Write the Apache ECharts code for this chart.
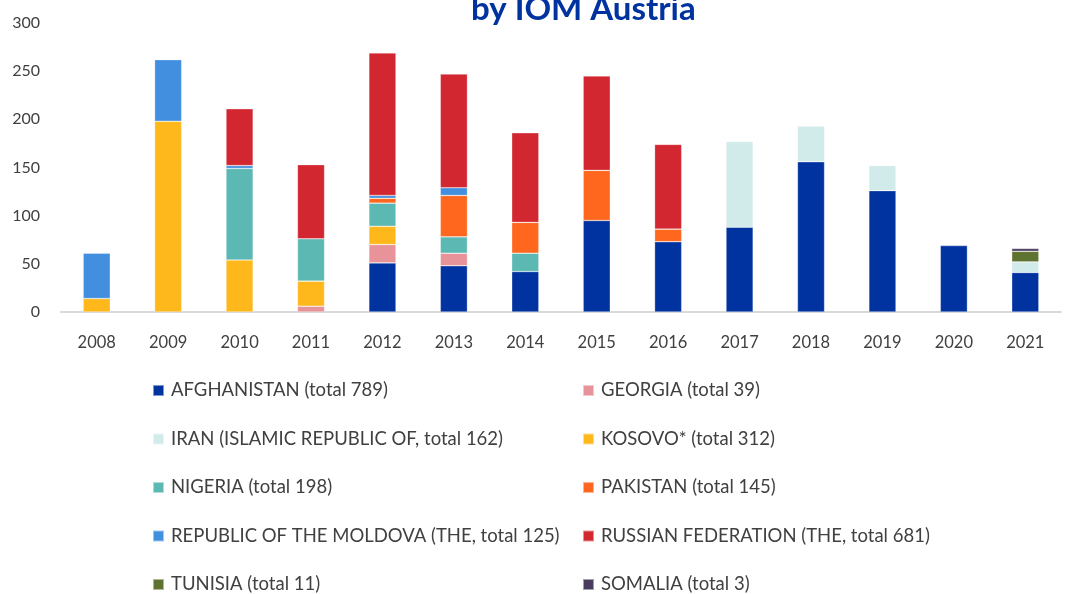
<!DOCTYPE html>
<html>
<head>
<meta charset="utf-8">
<script src="https://cdn.jsdelivr.net/npm/echarts@6/dist/echarts.min.js"></script>
<style>
  html, body { margin: 0; padding: 0; background: #fff; }
  #chart { width: 1068px; height: 594px; }
</style>
</head>
<body>
<div id="chart"></div>
<script>
// years on the x axis
const years = ['2008','2009','2010','2011','2012','2013','2014','2015','2016','2017','2018','2019','2020','2021']

// returns per country and year (null = none)
const afghanistan = [null, null, null, null, 51, 48, 42, 95, 73, 88, 156, 126, 69, 41]
const georgia     = [null, null, null, 6, 19, 13, null, null, null, null, null, null, null, null]
const iran        = [null, null, null, null, null, null, null, null, null, 89, 37, 26, null, 11]
const kosovo      = [14, 198, 54, 26, 19, null, null, null, null, null, null, null, null, null]
const nigeria     = [null, null, 95, 44, 24, 17, 19, null, null, null, null, null, null, null]
const pakistan    = [null, null, null, null, 5, 43, 32, 52, 13, null, null, null, null, null]
const moldova     = [47, 64, 3, null, 3, 8, null, null, null, null, null, null, null, null]
const russia      = [null, null, 59, 77, 148, 118, 93, 98, 88, null, null, null, null, null]
const tunisia     = [null, null, null, null, null, null, null, null, null, null, null, null, null, 11]
const somalia     = [null, null, null, null, null, null, null, null, null, null, null, null, null, 3]

const seriesNames = [
  'AFGHANISTAN (total 789)',
  'GEORGIA (total 39)',
  'IRAN (ISLAMIC REPUBLIC OF, total 162)',
  'KOSOVO* (total 312)',
  'NIGERIA (total 198)',
  'PAKISTAN (total 145)',
  'REPUBLIC OF THE MOLDOVA (THE, total 125)',
  'RUSSIAN FEDERATION (THE, total 681)',
  'TUNISIA (total 11)',
  'SOMALIA (total 3)'
]
const seriesData = [afghanistan, georgia, iran, kosovo, nigeria, pakistan, moldova, russia, tunisia, somalia]
const colors = ['#0033A0','#E8939A','#D0EBEA','#FFB81C','#5CB8B2','#FF671F','#418FDE','#D22630','#5E7330','#4A3C5E']

const fontFamily = 'Lato, "Open Sans", sans-serif'
const textColor = '#404040'

const chartInstance = echarts.init(document.getElementById('chart'))

const legendCommon = {
  orient: 'vertical',
  top: 381,
  height: 320,
  padding: 0,
  icon: 'rect',
  itemWidth: 11,
  itemHeight: 11,
  itemGap: 29.5,
  textStyle: { fontFamily: fontFamily, fontSize: 18.5, color: textColor, padding: [0, 0, 0, 2] }
}

const option = {
  animation: false,
  color: colors,
  title: {
    text: 'by IOM Austria',
    left: 466,
    top: -12,
    textStyle: { fontFamily: fontFamily, fontSize: 33, fontWeight: 'bold', color: '#0033A0' }
  },
  grid: { left: 61, right: 7, top: 23, bottom: 282 },
  legend: [
    Object.assign({}, legendCommon, { left: 152, data: [seriesNames[0], seriesNames[2], seriesNames[4], seriesNames[6], seriesNames[8]] }),
    Object.assign({}, legendCommon, { left: 582, data: [seriesNames[1], seriesNames[3], seriesNames[5], seriesNames[7], seriesNames[9]] })
  ],
  xAxis: {
    type: 'category',
    data: years,
    axisLine: { lineStyle: { color: '#D9D9D9', width: 2 } },
    axisTick: { show: false },
    axisLabel: { fontFamily: fontFamily, fontSize: 16.5, color: textColor, margin: 22 }
  },
  yAxis: {
    type: 'value',
    min: 0,
    max: 300,
    interval: 50,
    splitLine: { show: false },
    axisLine: { show: false },
    axisTick: { show: false },
    axisLabel: { fontFamily: fontFamily, fontSize: 16, color: textColor, margin: 21 }
  },
  series: seriesNames.map((name, i) => ({
    name: name,
    type: 'bar',
    stack: 'total',
    barWidth: '38%',
    data: seriesData[i],
    itemStyle: { borderColor: 'rgba(255,255,255,0.5)', borderWidth: 0.6 }
  }))
}

chartInstance.setOption(option)
</script>
</body>
</html>
